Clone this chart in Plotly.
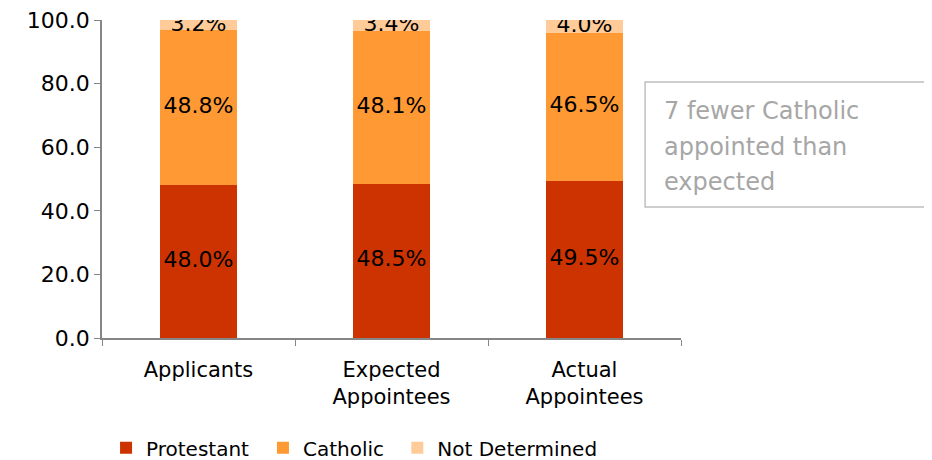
import plotly.graph_objects as go

categories = ["Applicants", "Expected<br>Appointees", "Actual<br>Appointees"]
protestant = [48.0, 48.5, 49.5]
catholic = [48.8, 48.1, 46.5]
not_determined = [3.2, 3.4, 4.0]
y_ticks = [0, 20, 40, 60, 80, 100]
note_lines = ["7 fewer Catholic", "appointed than", "expected"]

FONT = "'DejaVu Sans', sans-serif"
colors = ["#CC3300", "#FF9933", "#FFCC99"]
names = ["Protestant", "Catholic", "Not Determined"]
series = [protestant, catholic, not_determined]
legend_ids = ["legend", "legend2", "legend3"]
legend_x = [0.007, 0.278, 0.510]

fig = go.Figure()
for name, vals, col, lid in zip(names, series, colors, legend_ids):
    fig.add_trace(go.Bar(x=categories, y=vals, name=name, marker=dict(color=col, line=dict(width=0)),
                         width=0.4, legend=lid))

# labels at segment centres
bases = [0, 0, 0]
for vals in series:
    mids = [b + v / 2 for b, v in zip(bases, vals)]
    fig.add_trace(go.Scatter(x=categories, y=mids, mode="text",
                             text=[f"{v:.1f}%" for v in vals],
                             textfont=dict(size=22, color="#000000", family=FONT),
                             showlegend=False, hoverinfo="skip"))
    bases = [b + v for b, v in zip(bases, vals)]

legend_common = dict(orientation="h", y=-0.345, xanchor="left", yanchor="middle",
                     font=dict(size=20), itemwidth=30, bgcolor="rgba(0,0,0,0)")

fig.update_layout(
    barmode="stack",
    width=932, height=460,
    margin=dict(l=94, r=259, t=12, b=130, autoexpand=False),
    plot_bgcolor="white", paper_bgcolor="white",
    font=dict(family=FONT, size=21, color="#000000"),
    showlegend=True,
    legend=dict(x=legend_x[0], **legend_common),
    legend2=dict(x=legend_x[1], **legend_common),
    legend3=dict(x=legend_x[2], **legend_common),
    xaxis=dict(showline=True, linecolor="#868686", linewidth=1.5, ticks="outside",
               tickson="boundaries", ticklen=6, tickcolor="#868686",
               tickfont=dict(size=21), showgrid=False, ticklabelstandoff=12),
    yaxis=dict(range=[0, 100], tickvals=y_ticks, tickformat=".1f", showline=True,
               linecolor="#868686", linewidth=1.5, ticks="outside", ticklen=6,
               tickcolor="#868686", tickfont=dict(size=22), showgrid=False, zeroline=False,
               ticklabeloverflow="allow"),
)

fig.add_shape(type="rect", xref="paper", yref="paper", x0=0.938, x1=1.46, y0=0.412, y1=0.805,
              line=dict(color="#BFBFBF", width=1.5), fillcolor="white")
for line, yy in zip(note_lines, [0.714, 0.601, 0.491]):
    fig.add_annotation(xref="paper", yref="paper", x=0.968, y=yy, xanchor="left", yanchor="middle",
                       text=line, showarrow=False, align="left",
                       font=dict(size=24, color="#A6A6A6", family=FONT))

fig.write_html("out.html")
